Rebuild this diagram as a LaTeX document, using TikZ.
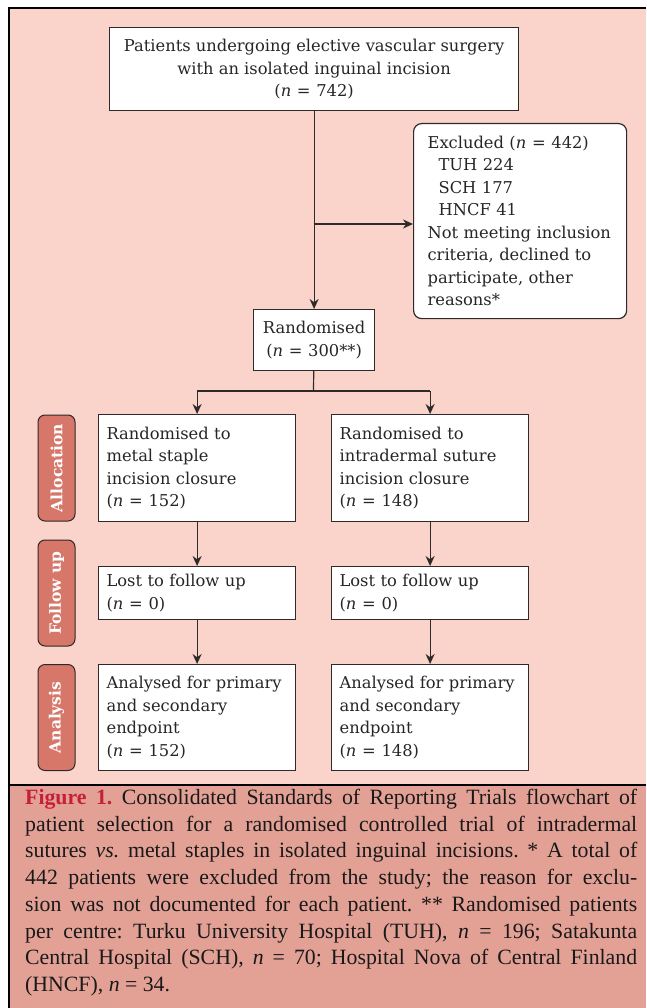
\documentclass[tikz,border=0pt]{standalone}
\usepackage{fontspec}
\usetikzlibrary{arrows.meta}
\setmainfont{DejaVu Serif}
\newfontfamily\capfont{Liberation Serif}
\definecolor{bgpink}{HTML}{FAD3CA}
\definecolor{labfill}{HTML}{D6776A}
\definecolor{capbg}{HTML}{E3A196}
\definecolor{figred}{HTML}{C52039}
\definecolor{edgecol}{HTML}{2E2A2A}
\newcommand{\nn}[1]{(\textit{n}\hspace{0.35em}=\hspace{0.35em}#1)}
\begin{document}
\frenchspacing
\begin{tikzpicture}[x=1pt,y=-1pt,
  boxfont/.style={font=\fontsize{16.3}{22.5}\selectfont},
  stepbox/.style={draw=edgecol, line width=1.2pt, fill=white, boxfont, text=black!85, inner ysep=0pt},
  colbox/.style={stepbox, anchor=north west, minimum width=197pt, text width=181pt, inner xsep=8pt, align=left},
  phase/.style={draw=edgecol, line width=1pt, fill=labfill, rounded corners=7pt, rotate=90,
    minimum width=106pt, minimum height=37pt, inner sep=0pt, text=white, font=\bfseries\fontsize{15.5}{18}\selectfont},
  conn/.style={draw=edgecol, line width=1.2pt},
  arr/.style={conn, -{Stealth[length=10pt,width=9pt]}}]
\useasboundingbox (0,0) rectangle (646,1008);
\fill[white] (0,0) rectangle (646,1008);
\fill[bgpink] (9,8) rectangle (646,785);
\fill[capbg] (9,785) rectangle (646,1008);
\draw[line width=1.5pt] (646,8) -- (9,8) -- (9,1008);
\draw[line width=1.3pt] (9,785) -- (646,785);

% top box
\node[stepbox, anchor=north west, minimum width=409pt, minimum height=83pt, align=center] (top) at (109,27)
  {Patients undergoing elective vascular surgery\\with an isolated inguinal incision\\\nn{742}};
% excluded
\node[stepbox, anchor=north west, rounded corners=8pt, minimum width=213pt, minimum height=195pt,
  text width=185pt, inner xsep=14pt, align=left] (excl) at (413,123)
  {Excluded \nn{442}\\\hspace*{11pt}TUH 224\\\hspace*{11pt}SCH 177\\\hspace*{11pt}HNCF 41\\Not meeting inclusion\\criteria, declined to\\participate, other\\reasons*};
% randomised
\node[stepbox, anchor=north west, minimum width=121pt, minimum height=61pt, align=center] (rand) at (253,309)
  {Randomised\\\nn{300**}};

% left column
\node[colbox, minimum height=107pt] (a1) at (98,414) {Randomised to\\metal staple\\incision closure\\\nn{152}};
\node[colbox, minimum height=53pt] (a2) at (98,566) {Lost to follow up\\\nn{0}};
\node[colbox, minimum height=106pt] (a3) at (98,664) {Analysed for primary\\and secondary\\endpoint\\\nn{152}};
% right column
\node[colbox, minimum height=107pt] (b1) at (331,414) {Randomised to\\intradermal suture\\incision closure\\\nn{148}};
\node[colbox, minimum height=53pt] (b2) at (331,566) {Lost to follow up\\\nn{0}};
\node[colbox, minimum height=106pt] (b3) at (331,664) {Analysed for primary\\and secondary\\endpoint\\\nn{148}};

% phase labels
\node[phase] (l1) at (56.5,468) {Allocation};
\node[phase] (l2) at (56.5,593) {Follow up};
\node[phase] (l3) at (56.5,717.5) {Analysis};

% connectors
\draw[arr] (top) -- (rand);
\coordinate (br) at (313.5,224);
\draw[arr] (br) -- (br -| excl.west);
\coordinate (split) at (313.5,391);
\draw[conn] (rand) -- (split);
\draw[conn] (a1.north |- split) -- (b1.north |- split);
\draw[arr] (a1.north |- split) -- (a1);
\draw[arr] (b1.north |- split) -- (b1);
\draw[arr] (a1) -- (a2);
\draw[arr] (a2) -- (a3);
\draw[arr] (b1) -- (b2);
\draw[arr] (b2) -- (b3);

% caption
\node[anchor=north west, text width=612pt, inner sep=0pt, align=justify,
  font=\capfont\fontsize{21.8}{26.7}\selectfont, text=black!90] (cap) at (25,789)
{{\color{figred}\bfseries Figure 1.} Consolidated Standards of Reporting Trials flowchart of\linebreak
patient selection for a randomised controlled trial of intradermal\linebreak
sutures \textit{vs.} metal staples in isolated inguinal incisions. * A total of\linebreak
442 patients were excluded from the study; the reason for exclu-\linebreak
sion was not documented for each patient. ** Randomised patients\linebreak
per centre: Turku University Hospital (TUH), \textit{n}~=~196; Satakunta\linebreak
Central Hospital (SCH), \textit{n}~=~70; Hospital Nova of Central Finland\linebreak
(HNCF), \textit{n}~=~34.};
\end{tikzpicture}
\end{document}
